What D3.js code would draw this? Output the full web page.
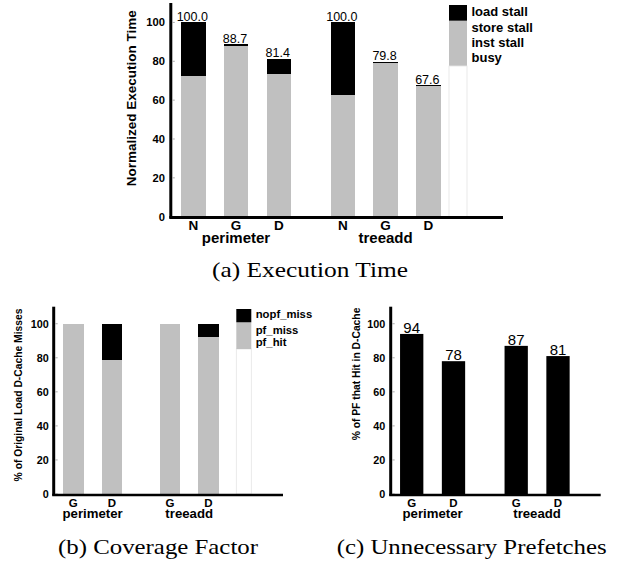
<!DOCTYPE html>
<html><head><meta charset="utf-8">
<script src="https://cdn.jsdelivr.net/npm/d3@7"></script>
<style>
html,body{margin:0;padding:0;background:#fff;}
svg{display:block;}
</style></head>
<body>
<svg id="chart" width="625" height="563"></svg>
<script>
// ---------- DATA ----------
const groups = ["perimeter", "treeadd"];
// (a) Execution Time
const configsA = ["N", "G", "D"];
const seriesA = ["busy", "inst stall", "store stall", "load stall"];
const busyA       = [68.0, 84.5, 71.0, 53.3, 66.6, 60.0];
const instStallA  = [1.6, 1.5, 1.0, 2.0, 1.5, 1.0];
const storeStallA = [2.6, 2.1, 1.5, 7.1, 11.2, 6.1];
const loadStallA  = [27.8, 0.6, 7.9, 37.6, 0.5, 0.5];
const totalsA     = ["100.0", "88.7", "81.4", "100.0", "79.8", "67.6"];
const legendA = ["load stall", "store stall", "inst stall", "busy"];
// (b) Coverage Factor
const configsB = ["G", "D"];
const pfHitB   = [94.0, 61.4, 87.0, 74.8];
const pfMissB  = [6.0, 17.3, 13.0, 17.6];
const nopfMissB= [0.0, 21.3, 0.0, 7.6];
const legendB = ["nopf_miss", "pf_miss", "pf_hit"];
// (c) Unnecessary Prefetches
const pfHitRateC = [94, 78, 87, 81];
const yTicks = [0, 20, 40, 60, 80, 100];

const GRAY = "#c0c0c0";
const svg = d3.select("#chart");
const FONT = '"Liberation Sans", Arial, sans-serif';
const SERIF = '"Liberation Serif", "Times New Roman", serif';

function yAxis(g, y, x0, yTop, yBot, fs, lblOff) {
  g.append("line").attr("x1", x0).attr("x2", x0).attr("y1", yTop).attr("y2", yBot + 1.5)
    .attr("stroke", "#000").attr("stroke-width", 3);
  const t = g.selectAll(".yt").data(yTicks).enter().append("g");
  t.append("text").attr("x", x0 - lblOff).attr("y", d => y(d)).attr("dy", "0.36em")
    .attr("text-anchor", "end").attr("font-family", FONT).attr("font-weight", "bold")
    .attr("font-size", fs).text(d => d);
  t.append("line").attr("x1", x0 + 1.5).attr("x2", x0 + 4).attr("y1", d => y(d)).attr("y2", d => y(d))
    .attr("stroke", "#999").attr("stroke-width", 0.8);
}

// ---------- (a) ----------
(function () {
  const g = svg.append("g");
  const y = d3.scaleLinear().domain([0, 110]).range([216.7, 3]);
  const slot = d3.scaleLinear().domain([0, 5.5]).range([193.3, 428.3]);
  const pos = [0, 1, 2, 3.5, 4.5, 5.5];
  const bw = 24.5;
  const rows = pos.map((p, i) => ({
    p, busy: busyA[i], "inst stall": instStallA[i], "store stall": storeStallA[i], "load stall": loadStallA[i]
  }));
  const stack = d3.stack().keys(seriesA)(rows);
  stack.forEach(s => {
    g.selectAll(null).data(s).enter().append("rect")
      .attr("shape-rendering", "crispEdges")
      .attr("x", d => slot(d.data.p) - bw / 2).attr("width", bw)
      .attr("y", d => y(d[1])).attr("height", d => y(d[0]) - y(d[1]))
      .attr("fill", s.key === "load stall" ? "#000" : GRAY);
  });
  g.selectAll(null).data(rows).enter().append("text")
    .attr("x", d => slot(d.p) - 1).attr("y", (d, i) => y(+totalsA[i]) - 1.8)
    .attr("text-anchor", "middle").attr("font-family", FONT).attr("font-size", 12.5)
    .text((d, i) => totalsA[i]);
  // legend bar
  g.append("rect").attr("x", 449).attr("y", 66).attr("width", 18).attr("height", y(0) - 66)
    .attr("fill", "#fff").attr("stroke", "#e4e4e4").attr("stroke-width", 0.8);
  g.append("rect").attr("x", 449).attr("y", 20.7).attr("width", 18).attr("height", 45).attr("fill", GRAY);
  g.append("rect").attr("x", 449).attr("y", 5).attr("width", 18).attr("height", 15.7).attr("fill", "#000");
  const ly = [16, 32.3, 46.8, 61.7];
  g.selectAll(null).data(legendA).enter().append("text")
    .attr("x", 471.5).attr("y", (d, i) => ly[i]).attr("font-family", FONT).attr("font-weight", "bold")
    .attr("font-size", 13).text(d => d);
  // axes
  yAxis(g, y, 170.8, 3, 216.7, 11.2, 5.8);
  g.append("line").attr("x1", 169.3).attr("x2", 503).attr("y1", 217.6).attr("y2", 217.6)
    .attr("stroke", "#000").attr("stroke-width", 3);
  g.selectAll(null).data(pos).enter().append("text")
    .attr("x", d => slot(d)).attr("y", 229.5).attr("text-anchor", "middle")
    .attr("font-family", FONT).attr("font-weight", "bold").attr("font-size", 13.5)
    .text((d, i) => configsA[i % 3]);
  g.selectAll(null).data(groups).enter().append("text")
    .attr("x", (d, i) => (slot(pos[i * 3]) + slot(pos[i * 3 + 2])) / 2).attr("y", 242.5)
    .attr("text-anchor", "middle").attr("font-family", FONT).attr("font-weight", "bold").attr("font-size", 15)
    .text(d => d);
  g.append("text").attr("transform", "translate(136,98.3) rotate(-90)").attr("text-anchor", "middle")
    .attr("font-family", FONT).attr("font-weight", "bold").attr("font-size", 13.5).text("Normalized Execution Time");
  g.append("text").attr("x", 212).attr("y", 276.7).attr("font-family", SERIF).attr("font-size", 21)
    .attr("textLength", 196).attr("lengthAdjust", "spacingAndGlyphs").text("(a) Execution Time");
})();

// ---------- (b) ----------
(function () {
  const g = svg.append("g");
  const y = d3.scaleLinear().domain([0, 110]).range([494, 306.7]);
  const slot = d3.scaleLinear().domain([0, 3.5]).range([73.3, 208.5]);
  const pos = [0, 1, 2.5, 3.5];
  const bw = 20.5;
  const keys = ["pf_hit", "pf_miss", "nopf_miss"];
  const rows = pos.map((p, i) => ({ p, pf_hit: pfHitB[i], pf_miss: pfMissB[i], nopf_miss: nopfMissB[i] }));
  d3.stack().keys(keys)(rows).forEach(s => {
    g.selectAll(null).data(s).enter().append("rect")
      .attr("shape-rendering", "crispEdges")
      .attr("x", d => slot(d.data.p) - bw / 2).attr("width", bw)
      .attr("y", d => y(d[1])).attr("height", d => y(d[0]) - y(d[1]))
      .attr("fill", s.key === "nopf_miss" ? "#000" : GRAY);
  });
  g.append("rect").attr("x", 236.3).attr("y", 349).attr("width", 15).attr("height", y(0) - 349)
    .attr("fill", "#fff").attr("stroke", "#e4e4e4").attr("stroke-width", 0.8);
  g.append("rect").attr("x", 236.3).attr("y", 322.3).attr("width", 15).attr("height", 26.7).attr("fill", GRAY);
  g.append("rect").attr("x", 236.3).attr("y", 309).attr("width", 15).attr("height", 13.3).attr("fill", "#000");
  const ly = [318.3, 334, 345.7];
  g.selectAll(null).data(legendB).enter().append("text")
    .attr("x", 255.7).attr("y", (d, i) => ly[i]).attr("font-family", FONT).attr("font-weight", "bold")
    .attr("font-size", 11.3).text(d => d);
  yAxis(g, y, 53.7, 306.7, 494, 10.8, 5);
  g.append("line").attr("x1", 52.2).attr("x2", 283).attr("y1", 495).attr("y2", 495)
    .attr("stroke", "#000").attr("stroke-width", 2.6);
  g.selectAll(null).data(pos).enter().append("text")
    .attr("x", d => slot(d)).attr("y", 506.5).attr("text-anchor", "middle")
    .attr("font-family", FONT).attr("font-weight", "bold").attr("font-size", 11.5)
    .text((d, i) => configsB[i % 2]);
  g.selectAll(null).data(groups).enter().append("text")
    .attr("x", (d, i) => (slot(pos[i * 2]) + slot(pos[i * 2 + 1])) / 2).attr("y", 518.3)
    .attr("text-anchor", "middle").attr("font-family", FONT).attr("font-weight", "bold").attr("font-size", 13.2)
    .text(d => d);
  g.append("text").attr("transform", "translate(22,395) rotate(-90)").attr("text-anchor", "middle")
    .attr("font-family", FONT).attr("font-weight", "bold").attr("font-size", 10.3).text("% of Original Load D-Cache Misses");
  g.append("text").attr("x", 58).attr("y", 554).attr("font-family", SERIF).attr("font-size", 21)
    .attr("textLength", 200).attr("lengthAdjust", "spacingAndGlyphs").text("(b) Coverage Factor");
})();

// ---------- (c) ----------
(function () {
  const g = svg.append("g");
  const y = d3.scaleLinear().domain([0, 110]).range([494, 306.7]);
  const slot = d3.scaleLinear().domain([0, 3.5]).range([411.7, 558]);
  const pos = [0, 1, 2.5, 3.5];
  const bw = 23.3;
  g.selectAll(null).data(pfHitRateC).enter().append("rect")
    .attr("x", (d, i) => slot(pos[i]) - bw / 2).attr("width", bw)
    .attr("y", d => y(d)).attr("height", d => y(0) - y(d)).attr("fill", "#000");
  g.selectAll(null).data(pfHitRateC).enter().append("text")
    .attr("x", (d, i) => slot(pos[i])).attr("y", d => y(d) - 1.2).attr("text-anchor", "middle")
    .attr("font-family", FONT).attr("font-size", 15).text(d => d);
  yAxis(g, y, 390.7, 306.7, 494, 10.8, 5.4);
  g.append("line").attr("x1", 389.2).attr("x2", 600.7).attr("y1", 495).attr("y2", 495)
    .attr("stroke", "#000").attr("stroke-width", 2.6);
  g.selectAll(null).data(pos).enter().append("text")
    .attr("x", d => slot(d)).attr("y", 506.5).attr("text-anchor", "middle")
    .attr("font-family", FONT).attr("font-weight", "bold").attr("font-size", 11.5)
    .text((d, i) => configsB[i % 2]);
  g.selectAll(null).data(groups).enter().append("text")
    .attr("x", (d, i) => (slot(pos[i * 2]) + slot(pos[i * 2 + 1])) / 2).attr("y", 518.3)
    .attr("text-anchor", "middle").attr("font-family", FONT).attr("font-weight", "bold").attr("font-size", 13.2)
    .text(d => d);
  g.append("text").attr("transform", "translate(360,374) rotate(-90)").attr("text-anchor", "middle")
    .attr("font-family", FONT).attr("font-weight", "bold").attr("font-size", 10.3).text("% of PF that Hit in D-Cache");
  g.append("text").attr("x", 336.7).attr("y", 554).attr("font-family", SERIF).attr("font-size", 21)
    .attr("textLength", 270).attr("lengthAdjust", "spacingAndGlyphs").text("(c) Unnecessary Prefetches");
})();
</script>
</body></html>
